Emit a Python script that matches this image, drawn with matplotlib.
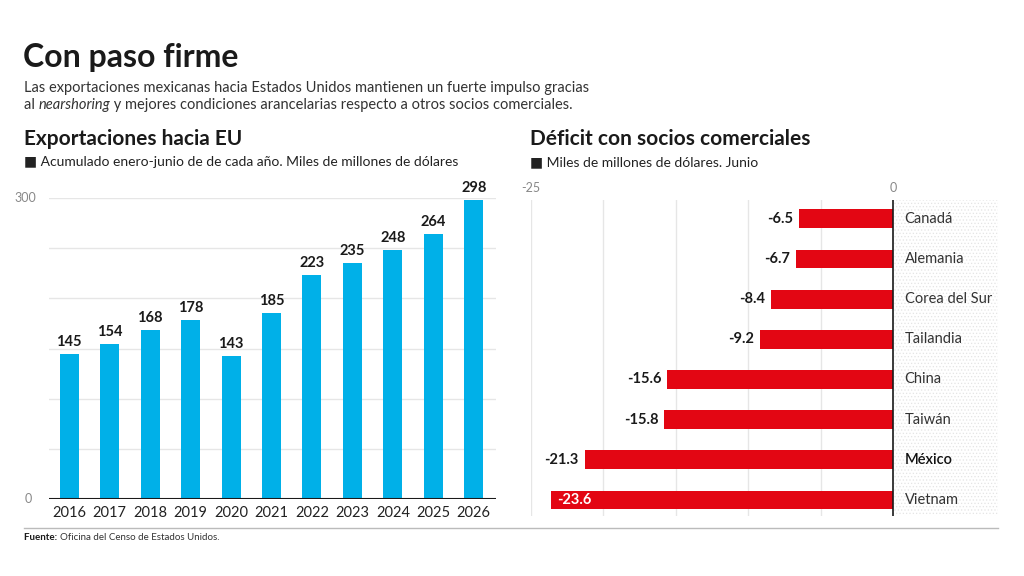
import matplotlib
matplotlib.use('Agg')
import matplotlib.pyplot as plt
from matplotlib.patches import Rectangle

plt.rcParams['font.family'] = ['Lato', 'DejaVu Sans']
plt.rcParams['hatch.linewidth'] = 0.5

# datos: exportaciones hacia EU (enero-junio, miles de millones de dolares)
years = ['2016', '2017', '2018', '2019', '2020', '2021',
         '2022', '2023', '2024', '2025', '2026']
exports = [145, 154, 168, 178, 143, 185, 223, 235, 248, 264, 298]

# datos: deficit con socios comerciales (junio)
partners = ['Canadá', 'Alemania', 'Corea del Sur', 'Tailandia',
            'China', 'Taiwán', 'México', 'Vietnam']
deficit = [-6.5, -6.7, -8.4, -9.2, -15.6, -15.8, -21.3, -23.6]

BLUE = '#00b0e8'
RED = '#e30613'
W, H = 1024, 576


def px_axes(fig, x0, y0, x1, y1):
    ''' axes from pixel box (top-left origin) '''
    return fig.add_axes([x0 / W, 1 - y1 / H, (x1 - x0) / W, (y1 - y0) / H])


def text_run(fig, x_px, y_px, parts, **kw):
    ''' write pieces of text one after the other on the same line '''
    renderer = fig.canvas.get_renderer()
    for txt, extra in parts:
        opts = dict(kw)
        opts.update(extra)
        t = fig.text(x_px / W, 1 - y_px / H, txt, va='center', **opts)
        bb = t.get_window_extent(renderer=renderer)
        x_px += bb.width


fig = plt.figure(figsize=(W / 100, H / 100), dpi=100)

# header
fig.text(23 / W, 1 - 57 / H, 'Con paso firme', fontsize=23, fontweight='bold',
         color='#1a1a1a', va='center')
fig.text(24 / W, 1 - 88 / H,
         'Las exportaciones mexicanas hacia Estados Unidos mantienen un fuerte impulso gracias',
         fontsize=10.5, color='#333333', va='center')
text_run(fig, 24, 105,
         [('al ', {}), ('nearshoring', {'style': 'italic'}),
          (' y mejores condiciones arancelarias respecto a otros socios comerciales.', {})],
         fontsize=10.5, color='#333333')

# section titles
fig.text(24 / W, 1 - 139 / H, 'Exportaciones hacia EU', fontsize=15,
         fontweight='bold', color='#1a1a1a', va='center')
fig.text(24 / W, 1 - 162 / H,
         '■ Acumulado enero-junio de de cada año. Miles de millones de dólares',
         fontsize=10, color='#222222', va='center')
fig.text(530 / W, 1 - 139 / H, 'Déficit con socios comerciales', fontsize=15,
         fontweight='bold', color='#1a1a1a', va='center')
fig.text(530 / W, 1 - 162 / H, '■ Miles de millones de dólares. Junio',
         fontsize=10, color='#222222', va='center')

# ---- left chart
ax1 = px_axes(fig, 49, 198, 496, 499)
x = range(len(years))
ax1.bar(x, exports, width=0.47, color=BLUE, zorder=2)
for xi, v in zip(x, exports):
    ax1.text(xi, v + 5, str(v), ha='center', va='bottom', fontsize=10.5,
             fontweight='bold', color='#1a1a1a', clip_on=False)
ax1.set_xlim(-0.5, 10.55)
ax1.set_ylim(0, 300)
for g in [50, 100, 150, 200, 250, 300]:
    ax1.axhline(g, color='#e6e6e6', lw=1, zorder=0)
ax1.axhline(0, color='#1a1a1a', lw=1.5, zorder=3)
ax1.set_xticks(list(x))
ax1.set_xticklabels(years, fontsize=10.5, color='#222222')
ax1.tick_params(axis='x', length=0, pad=5)
ax1.set_yticks([])
for s in ax1.spines.values():
    s.set_visible(False)
ax1.text(-0.82, 300, '300', ha='right', va='center', fontsize=9,
         color='#888888')
ax1.text(-0.92, 0, '0', ha='right', va='center', fontsize=9, color='#888888')

# ---- right chart
ax2 = px_axes(fig, 531, 200, 998, 516)
y = range(len(partners))
ax2.add_patch(Rectangle((0, -0.47), 7.25, 7.87, facecolor='white',
                        edgecolor='#e4e4e4', hatch='.....', lw=0, zorder=0))
ax2.barh(y, deficit, height=0.47, color=RED, zorder=2)
for g in [-25, -20, -15, -10, -5]:
    ax2.axvline(g, color='#e6e6e6', lw=1, zorder=1)
ax2.axvline(0, color='#1a1a1a', lw=1.2, zorder=3)
for yi, v, name in zip(y, deficit, partners):
    if v < -23:
        ax2.text(v + 0.4, yi, f'{v:.1f}', ha='left', va='center',
                 fontsize=10.5, fontweight='bold', color='white', zorder=4)
    else:
        ax2.text(v - 0.4, yi, f'{v:.1f}', ha='right', va='center',
                 fontsize=10.5, fontweight='bold', color='#1a1a1a', zorder=4)
    ax2.text(0.8, yi, name, ha='left', va='center', fontsize=10.5,
             color='#111111' if name == 'México' else '#333333',
             fontweight='semibold' if name == 'México' else 'normal', zorder=4)
ax2.set_xlim(-25, 7.25)
ax2.set_ylim(7.4, -0.47)
ax2.set_xticks([])
ax2.set_yticks([])
for s in ax2.spines.values():
    s.set_visible(False)
ax2.text(-25, -0.63, '-25', ha='center', va='bottom', fontsize=9,
         color='#888888', clip_on=False)
ax2.text(0, -0.63, '0', ha='center', va='bottom', fontsize=9,
         color='#888888', clip_on=False)

# footer
fig.add_artist(plt.Line2D([24 / W, 998 / W], [1 - 528 / H, 1 - 528 / H],
                          color='#bbbbbb', lw=1))
text_run(fig, 24, 538,
         [('Fuente: ', {'fontweight': 'bold', 'color': '#1a1a1a'}),
          ('Oficina del Censo de Estados Unidos.', {})],
         fontsize=7, color='#333333')

fig.savefig('out.png', dpi=100)
